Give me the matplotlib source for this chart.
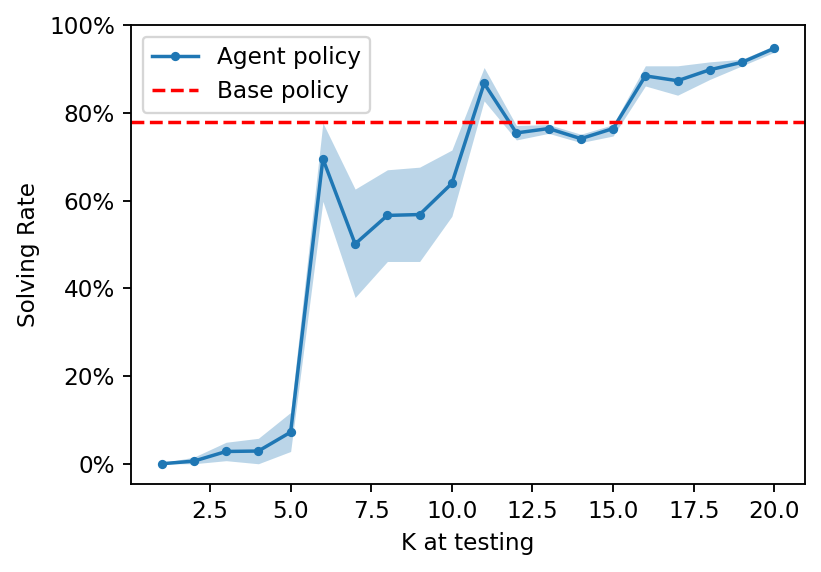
import numpy as np
import matplotlib
matplotlib.use("Agg")
import matplotlib.pyplot as plt
from matplotlib.ticker import PercentFormatter

# K values used at test time
k_test = [1, 2, 3, 4, 5, 6, 7, 8, 9, 10, 11, 12, 13, 14, 15, 16, 17, 18, 19, 20]

# mean solving rate of the agent policy
agent_mean = [0.000, 0.006, 0.028, 0.029, 0.072, 0.695, 0.501, 0.566, 0.568, 0.639,
              0.867, 0.754, 0.764, 0.741, 0.764, 0.884, 0.873, 0.898, 0.915, 0.947]

# spread around the mean (shaded band)
agent_low = [0.000, 0.000, 0.007, 0.000, 0.028, 0.598, 0.379, 0.461, 0.461, 0.564,
             0.827, 0.738, 0.753, 0.732, 0.747, 0.861, 0.840, 0.876, 0.907, 0.938]
agent_high = [0.002, 0.015, 0.049, 0.058, 0.117, 0.777, 0.626, 0.670, 0.676, 0.715,
              0.903, 0.771, 0.773, 0.751, 0.773, 0.907, 0.907, 0.916, 0.922, 0.953]

base_rate = 0.78

DPI = 166.5
fig, ax = plt.subplots(figsize=(821 / DPI, 572 / DPI), dpi=DPI)
fig.subplots_adjust(left=131 / 821, right=805 / 821, top=1 - 25 / 572,
                    bottom=1 - 483.5 / 572)

ax.plot(k_test, agent_mean, marker='o', markersize=3, color='C0',
        label='Agent policy')
ax.fill_between(k_test, agent_low, agent_high, color='C0', alpha=0.3,
                linewidth=0)
ax.axhline(base_rate, color='r', linestyle='--', label='Base policy')

ax.set_ylim(-0.045, 1.0)
ax.yaxis.set_major_formatter(PercentFormatter(1.0, decimals=0))
ax.set_xlabel('K at testing')
ax.set_ylabel('Solving Rate')
ax.legend(loc='upper left')

plt.savefig('out.png', dpi=DPI)
plt.close()
